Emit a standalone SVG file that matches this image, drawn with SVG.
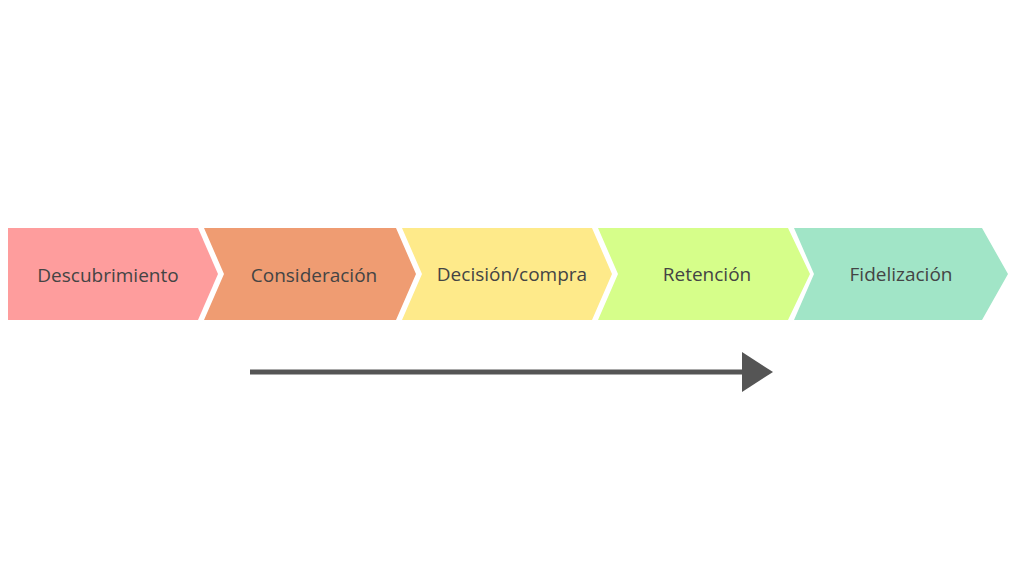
<svg xmlns="http://www.w3.org/2000/svg" width="1024" height="576" viewBox="0 0 1024 576">
<style>
text{font-family:"Open Sans","Liberation Sans",sans-serif;font-size:19px;fill:#444;text-anchor:middle;dominant-baseline:central}
</style>
<rect width="1024" height="576" fill="#fff"/>
<g id="n1"><polygon points="8,228 198,228 218,274 198,320 8,320" fill="#fe9d9d"/><text x="108" y="275">Descubrimiento</text></g>
<g id="n2"><polygon points="204,228 396,228 416,274 396,320 204,320 224,274" fill="#ef9c72"/><text x="314" y="275">Consideración</text></g>
<g id="n3"><polygon points="402,228 592,228 612,274 592,320 402,320 422,274" fill="#feea8a"/><text x="512" y="274">Decisión/compra</text></g>
<g id="n4"><polygon points="598,228 788,228 810,274 788,320 598,320 618,274" fill="#d6fe8a"/><text x="707" y="274">Retención</text></g>
<g id="n5"><polygon points="794,228 982,228 1008,274 982,320 794,320 814,274" fill="#a1e5c7"/><text x="901" y="274">Fidelización</text></g>
<g id="connectors"><line x1="250" y1="372" x2="746" y2="372" stroke="#555" stroke-width="5"/><polygon points="742,352 773,372 742,392" fill="#555"/></g>
</svg>
